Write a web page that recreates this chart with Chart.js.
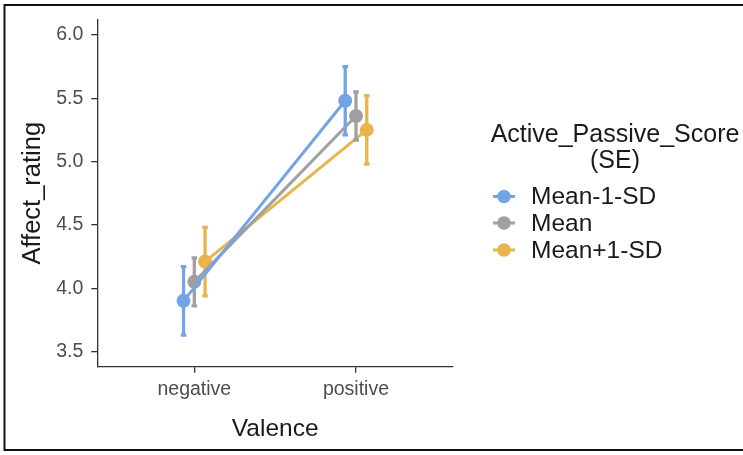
<!DOCTYPE html>
<html>
<head>
<meta charset="utf-8">
<script src="https://cdn.jsdelivr.net/npm/chart.js@4.4.1/dist/chart.umd.min.js"></script>
<style>
  html, body { margin: 0; padding: 0; background: #ffffff; }
  #wrap { width: 743px; height: 455px; position: relative; }
</style>
</head>
<body>
<div id="wrap"><canvas id="chart" width="743" height="455"></canvas></div>
<script>
// Valence categories on the x axis
const categories = ['negative', 'positive'];

// Group labels (Active_Passive_Score level)
const seriesNames = ['Mean-1-SD', 'Mean', 'Mean+1-SD'];

// Mean affect rating per valence, one array per group
const meanMinus1SD = [3.90, 5.48];
const meanLevel    = [4.05, 5.36];
const meanPlus1SD  = [4.21, 5.25];

// Standard errors per valence, one array per group
const seMinus1SD = [0.27, 0.27];
const seMean     = [0.19, 0.19];
const sePlus1SD  = [0.27, 0.27];

// Y axis tick values
const yTicks = [3.5, 4.0, 4.5, 5.0, 5.5, 6.0];

const seriesColors = ['#73A4E6', '#A0A0A0', '#E8B44C'];
const dodge = [-0.0667, 0, 0.0667];   // horizontal dodge per group, in category units

const FONT = "'Liberation Sans', Arial, Helvetica, sans-serif";

const means = [meanMinus1SD, meanLevel, meanPlus1SD];
const ses = [seMinus1SD, seMean, sePlus1SD];

const datasets = seriesNames.map((name, g) => ({
  label: name,
  data: categories.map((c, i) => ({ x: i + 1 + dodge[g], y: means[g][i], se: ses[g][i] })),
  borderColor: seriesColors[g],
  backgroundColor: seriesColors[g],
  pointBackgroundColor: seriesColors[g],
  pointBorderColor: seriesColors[g],
  pointRadius: 7,
  pointBorderWidth: 0,
  borderWidth: 3,
  tension: 0,
  fill: false
}));

// Vertical error bars (mean ± SE) drawn right after each group's line and points
const errorBars = {
  id: 'errorBars',
  afterDatasetDraw(chart, args) {
    const ds = chart.data.datasets[args.index];
    const xs = chart.scales.x, ys = chart.scales.y;
    const ctx = chart.ctx;
    ctx.save();
    ctx.strokeStyle = ds.borderColor;
    ctx.lineWidth = 3.3;
    ds.data.forEach(p => {
      const px = xs.getPixelForValue(p.x);
      const top = ys.getPixelForValue(p.y + p.se);
      const bot = ys.getPixelForValue(p.y - p.se);
      ctx.beginPath();
      ctx.moveTo(px, top); ctx.lineTo(px, bot);
      ctx.moveTo(px - 2.8, top); ctx.lineTo(px + 2.8, top);
      ctx.moveTo(px - 2.8, bot); ctx.lineTo(px + 2.8, bot);
      ctx.stroke();
    });
    ctx.restore();
  }
};

// Legend with title at the right, plus the outer frame
const sideLegend = {
  id: 'sideLegend',
  afterDraw(chart) {
    const ctx = chart.ctx;
    ctx.save();
    ctx.fillStyle = '#1a1a1a';
    ctx.textAlign = 'center';
    ctx.textBaseline = 'middle';
    ctx.font = '25px ' + FONT;
    ctx.fillText('Active_Passive_Score', 615, 135);
    ctx.fillText('(SE)', 615, 161.5);

    ctx.font = '24.5px ' + FONT;
    ctx.textAlign = 'left';
    const rowY = [196.5, 223, 250];
    chart.data.datasets.forEach((ds, i) => {
      const y = rowY[i];
      ctx.strokeStyle = ds.borderColor;
      ctx.lineWidth = 3;
      ctx.beginPath();
      ctx.moveTo(493, y); ctx.lineTo(515, y);
      ctx.stroke();
      ctx.fillStyle = ds.borderColor;
      ctx.beginPath();
      ctx.arc(504, y, 6.8, 0, Math.PI * 2);
      ctx.fill();
      ctx.fillStyle = '#1a1a1a';
      ctx.fillText(ds.label, 531, y + 1);
    });

    ctx.strokeStyle = '#111111';
    ctx.lineWidth = 2;
    ctx.strokeRect(4.5, 5, 745, 445);
    ctx.restore();
  }
};

const axisColor = '#333333';

new Chart(document.getElementById('chart'), {
  type: 'line',
  data: { datasets },
  plugins: [errorBars, sideLegend],
  options: {
    responsive: false,
    animation: false,
    events: [],
    layout: { padding: { top: 17, right: 290, bottom: 0, left: 0 } },
    plugins: {
      legend: { display: false },
      tooltip: { enabled: false },
      title: { display: false }
    },
    scales: {
      x: {
        type: 'linear',
        min: 0.4,
        max: 2.6,
        afterBuildTicks(scale) { scale.ticks = categories.map((c, i) => ({ value: i + 1 })); },
        afterFit(scale) { scale.height = 88.3; },
        ticks: {
          callback: (v, i) => categories[i],
          color: '#4D4D4D',
          font: { family: FONT, size: 19.5 },
          padding: 5,
          maxRotation: 0
        },
        grid: { display: true, drawOnChartArea: false, drawTicks: true, tickLength: 6, color: axisColor, lineWidth: 1.3 },
        border: { display: true, color: axisColor, width: 1.3 },
        title: {
          display: true,
          text: 'Valence',
          color: '#1a1a1a',
          font: { family: FONT, size: 24.5 },
          padding: { top: 0, bottom: 11 }
        }
      },
      y: {
        type: 'linear',
        min: 3.38,
        max: 6.12,
        afterBuildTicks(scale) { scale.ticks = yTicks.map(v => ({ value: v })); },
        afterFit(scale) { scale.width = 97.3; },
        ticks: {
          callback: v => Number(v).toFixed(1),
          color: '#4D4D4D',
          font: { family: FONT, size: 19.5 },
          padding: 8
        },
        grid: { display: true, drawOnChartArea: false, drawTicks: true, tickLength: 6, color: axisColor, lineWidth: 1.3 },
        border: { display: true, color: axisColor, width: 1.3 },
        title: {
          display: true,
          text: 'Affect_rating',
          color: '#1a1a1a',
          font: { family: FONT, size: 25.5 },
          padding: { top: 18, bottom: 0 }
        }
      }
    }
  }
});
</script>
</body>
</html>
